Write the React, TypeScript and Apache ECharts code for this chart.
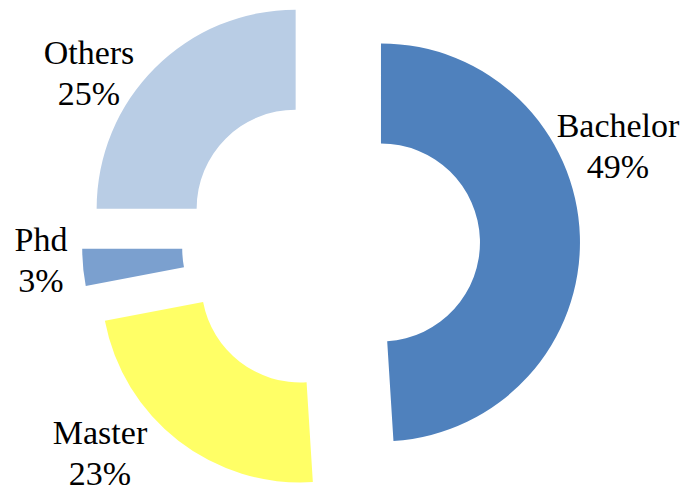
import React, { useEffect, useRef } from "react";
import * as echarts from "echarts";

const categories = ["Bachelor", "Master", "Phd", "Others"];
const values = [49, 23, 3, 25];
const colors = ["#4F81BD", "#FFFF66", "#7BA0CF", "#B9CDE5"];
// label anchor positions (center of two-line label block), in px
const labelX = [618, 100, 41, 89];
const labelY = [146, 453, 260, 73];

export default function App() {
  const ref = useRef<HTMLDivElement>(null);
  useEffect(() => {
    if (!ref.current) return;
    const chart = echarts.init(ref.current, undefined, { renderer: "svg" });
    const total = values.reduce((a, b) => a + b, 0);
    chart.setOption({
      animation: false,
      backgroundColor: "#ffffff",
      graphic: categories.map((c, i) => ({
        type: "text",
        x: labelX[i],
        y: labelY[i],
        z: 10,
        style: {
          text: c + "\n" + Math.round((values[i] / total) * 100) + "%",
          fontFamily: "Liberation Serif",
          fontSize: 34,
          lineHeight: 41,
          fill: "#000000",
          align: "center",
          verticalAlign: "middle",
        },
      })),
      series: [
        {
          type: "pie",
          center: [331, 244],
          radius: [99, 199],
          startAngle: 90,
          clockwise: true,
          selectedMode: "multiple",
          selectedOffset: 50,
          avoidLabelOverlap: false,
          emphasis: { disabled: true },
          label: { show: false },
          labelLine: { show: false },
          data: categories.map((c, i) => ({
            name: c,
            value: values[i],
            selected: true,
            itemStyle: { color: colors[i] },
          })),
        },
      ],
    });
    return () => chart.dispose();
  }, []);
  return (
    <div
      ref={ref}
      style={{ position: "fixed", left: 0, top: 0, width: 686, height: 492 }}
    />
  );
}
